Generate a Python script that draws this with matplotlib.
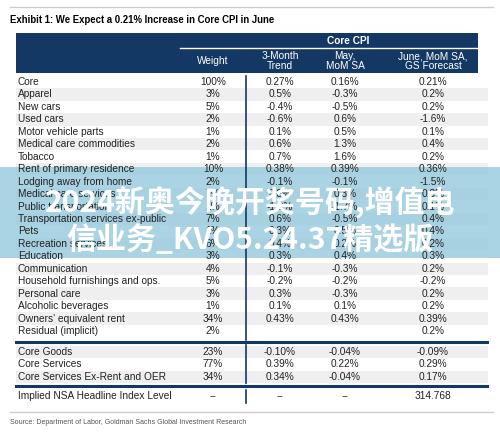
import matplotlib.pyplot as plt
from matplotlib.patches import Rectangle

# Table data
labels = ['Core', 'Apparel', 'New cars', 'Used cars', 'Motor vehicle parts',
          'Medical care commodities', 'Tobacco', 'Rent of primary residence',
          'Lodging away from home', 'Medical care services', 'Public transportation',
          'Transportation services ex-public', 'Pets', 'Recreation services',
          'Education', 'Communication', 'Household furnishings and ops.',
          'Personal care', 'Alcoholic beverages', "Owners' equivalent rent",
          'Residual (implicit)']
weights = ['100%', '3%', '5%', '2%', '1%', '2%', '1%', '10%', '2%', '7%', '1%',
           '7%', '1%', '6%', '3%', '4%', '5%', '3%', '1%', '34%', '2%']
trend = ['0.27%', '0.5%', '-0.4%', '-0.6%', '0.1%', '0.6%', '0.7%', '0.38%', '-0.1%',
         '0.3%', '-1.0%', '0.6%', '0.3%', '0.4%', '0.3%', '-0.1%', '-0.2%', '0.3%',
         '0.1%', '0.43%', '']
may = ['0.16%', '-0.3%', '-0.5%', '0.6%', '0.5%', '1.3%', '1.6%', '0.39%', '-0.1%',
       '0.3%', '-1.7%', '-0.5%', '0.5%', '0.2%', '0.4%', '-0.3%', '-0.2%', '-0.3%',
       '0.1%', '0.43%', '']
june = ['0.21%', '0.2%', '0.2%', '-1.6%', '0.1%', '0.4%', '0.2%', '0.36%', '-1.5%',
        '0.3%', '0.1%', '0.4%', '0.4%', '0.2%', '0.3%', '0.2%', '-0.2%', '0.2%',
        '0.2%', '0.39%', '0.2%']

agg_labels = ['Core Goods', 'Core Services', 'Core Services Ex-Rent and OER']
agg_weights = ['23%', '77%', '34%']
agg_trend = ['-0.10%', '0.39%', '0.34%']
agg_may = ['-0.04%', '0.22%', '-0.04%']
agg_june = ['-0.09%', '0.29%', '0.17%']

nsa_row = ['Implied NSA Headline Index Level', '--', '--', '--', '314.768']

navy = '#143864'
shade = '#efefef'
font = ['Liberation Sans', 'DejaVu Sans']
narrow = ['Liberation Sans Narrow', 'Liberation Sans', 'DejaVu Sans']

fig = plt.figure(figsize=(5, 4.37), dpi=100)
ax = fig.add_axes([0, 0, 1, 1])
ax.set_xlim(0, 500)
ax.set_ylim(437, 0)
ax.axis('off')

col_x = [213, 280, 345, 433]
fs = 7.3

# top rule + title
ax.plot([10, 493], [7, 7], color='#cccccc', lw=1)
ax.text(10, 20, 'Exhibit 1: We Expect a 0.21% Increase in Core CPI in June',
        fontsize=6.9, fontweight='bold', family=narrow, va='center')

# header
ax.add_patch(Rectangle((16, 33), 462, 40, color=navy, lw=0))
ax.plot([180, 478], [48, 48], color='white', lw=1)
ax.text(348, 40.5, 'Core CPI', color='white', fontsize=7.3, fontweight='bold',
        family=font, ha='center', va='center')
headers = ['Weight', '3-Month\nTrend', 'May,\nMoM SA', 'June, MoM SA,\nGS Forecast']
for x, h in zip(col_x, headers):
    ax.text(x, 61, h, color='white', fontsize=fs, family=font, ha='center',
            va='center', linespacing=0.95)


def draw_row(y, cells, shaded):
    if shaded:
        ax.add_patch(Rectangle((16, y - 6.2), 472, 12.4, color=shade, lw=0))
    ax.text(18, y, cells[0], fontsize=fs, family=font, va='center', color='#222222')
    for x, c in zip(col_x, cells[1:]):
        ax.text(x, y, c, fontsize=fs, family=font, ha='center', va='center',
                color='#222222')


step = 12.45
for i in range(len(labels)):
    y = 82 + i * step
    draw_row(y, [labels[i], weights[i], trend[i], may[i], june[i]], i % 2 == 1)

for i in range(len(agg_labels)):
    y = 352 + i * step
    draw_row(y, [agg_labels[i], agg_weights[i], agg_trend[i], agg_may[i],
                 agg_june[i]], i % 2 == 0)

draw_row(396, nsa_row, False)

# rules
ax.plot([16, 487], [342, 342], color=navy, lw=2.2)
ax.plot([16, 487], [386, 386], color=navy, lw=2.2)
ax.plot([246, 246], [76, 340], color=navy, lw=1.2)
ax.plot([246, 246], [345, 383], color=navy, lw=1.2)
ax.plot([246, 246], [390, 403], color=navy, lw=1.2)
ax.plot([10, 493], [412, 412], color='#cccccc', lw=1)

ax.text(10, 423, 'Source: Department of Labor, Goldman Sachs Global Investment Research',
        fontsize=5.0, family=narrow, color='#555555', va='center')

# watermark overlay
ax.add_patch(Rectangle((0, 167), 500, 91, color='#95c9de', alpha=0.8, lw=0))
wm = ['Noto Sans CJK SC', 'DejaVu Sans']
ax.text(250, 202, '2024新奥今晚开奖号码,增值电', fontsize=21.6, fontweight='bold',
        family=wm, color='white', ha='center', va='center')
ax.text(250, 240, '信业务_KVO5.24.37精选版', fontsize=21.6, fontweight='bold',
        family=wm, color='white', ha='center', va='center')

fig.savefig('out.png', dpi=100)
